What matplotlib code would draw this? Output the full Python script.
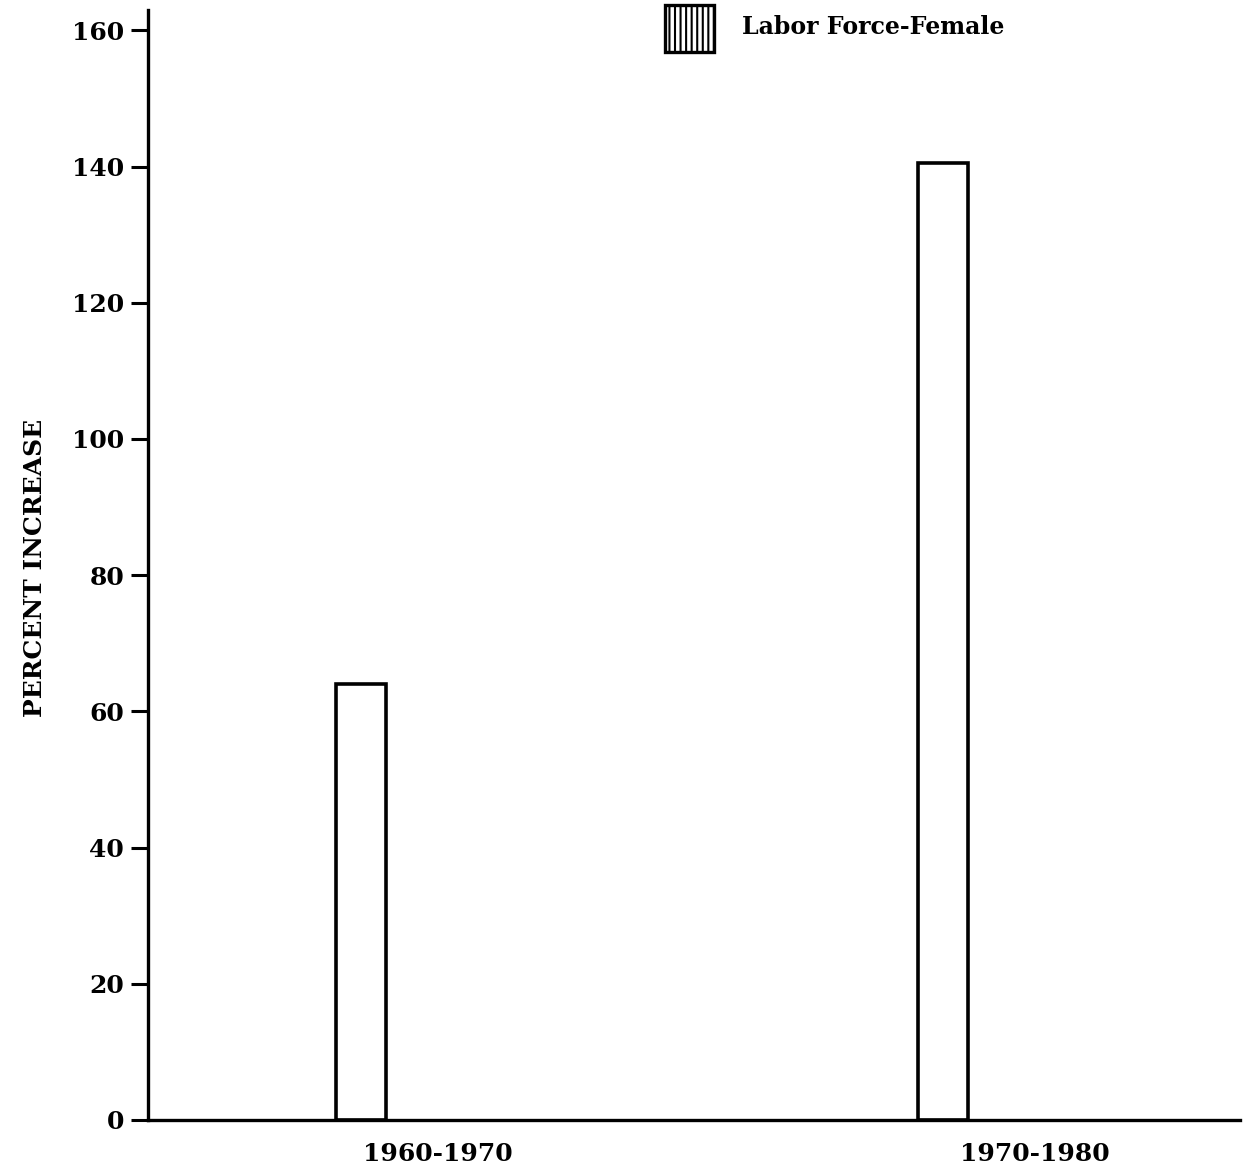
import matplotlib.pyplot as plt
from matplotlib.patches import Rectangle

periods = ['1960-1970', '1970-1980']
pct_increase = [64, 140.5]
series_name = 'Labor Force-Female'

bar_pos = [0, 1]
label_pos = [0.132, 1.157]

plt.rcParams['font.family'] = ['DejaVu Serif']
plt.rcParams['font.weight'] = 'bold'
plt.rcParams['hatch.linewidth'] = 1.5

fig = plt.figure(figsize=(12.53, 11.72), dpi=100)
ax = fig.add_axes([0.118, 0.0444, 0.8716, 0.9471])

ax.bar(bar_pos, pct_increase, width=0.086, color='white', edgecolor='black', linewidth=2.6)

ax.set_xlim(-0.3657, 1.509)
ax.set_ylim(0, 163)
ax.set_yticks(range(0, 161, 20))
ax.set_xticks(label_pos)
ax.set_xticklabels(periods)
ax.tick_params(axis='x', length=0, pad=16, labelsize=18)
ax.tick_params(axis='y', length=12, width=2.2, pad=5, labelsize=18)
for lbl in ax.get_xticklabels() + ax.get_yticklabels():
    lbl.set_fontweight('bold')

for s in ['top', 'right']:
    ax.spines[s].set_visible(False)
for s in ['left', 'bottom']:
    ax.spines[s].set_linewidth(2.4)

ax.set_ylabel('PERCENT INCREASE', fontsize=18, fontweight='bold')
ax.yaxis.set_label_coords(-0.092, 0.497)

# legend box drawn by hand, top centre of the figure
fig.patches.append(Rectangle((0.5307, 0.9556), 0.0391, 0.0401, transform=fig.transFigure,
                             facecolor='white', edgecolor='black', hatch='|||', linewidth=2.4))
fig.text(0.5922, 0.977, series_name, fontsize=17, fontweight='bold', va='center', ha='left')

fig.savefig('out.png', dpi=100)
